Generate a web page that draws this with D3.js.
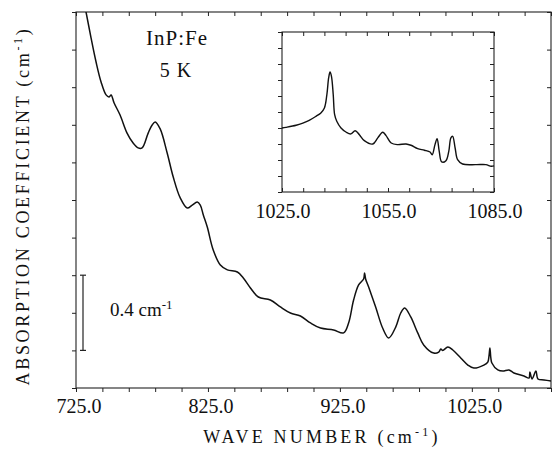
<!DOCTYPE html>
<html><head><meta charset="utf-8">
<script src="https://cdn.jsdelivr.net/npm/d3@7"></script>
<style>
html,body{margin:0;padding:0;background:#fff;}
svg{display:block;}
text{font-family:"Liberation Serif","Times New Roman",serif;fill:#111;}
</style></head>
<body>
<svg id="chart" width="553" height="456"></svg>
<script>
// ---- main spectrum (wave number, absorption coefficient in cm-1, arbitrary offset)
const mainWave = [729,732.6,736.4,740.2,744.0,747.8,750.1,751.6,753.9,758.4,763.7,768.3,772.1,775.1,779.7,782.7,785.0,788.8,794.1,798.7,804.0,809.3,813.1,816.9,819.2,821.5,824.5,829.0,834.4,839.7,847.3,851.8,857.2,863.2,872.3,879.9,887.5,895.1,902.7,910.3,920.2,927.8,931.6,935.4,939.2,943.0,943.7,944.5,946.8,952.1,957.4,962.0,967.3,971.1,974.1,978.7,984.0,988.5,996.1,999.9,1001.5,1003.0,1006.8,1010.6,1016.6,1022.0,1026.5,1034.1,1037.1,1038.0,1038.7,1039.4,1040.2,1044.7,1048.5,1053.1,1056.9,1064.5,1068.3,1069.0,1070.6,1073.6,1075.1,1079.7,1085.0];
const mainAbs  = [2.12,2.0,1.862,1.734,1.628,1.559,1.548,1.559,1.516,1.452,1.356,1.303,1.277,1.277,1.356,1.399,1.415,1.378,1.250,1.122,1.011,0.957,0.973,0.989,0.973,0.920,0.856,0.734,0.654,0.628,0.617,0.585,0.532,0.484,0.468,0.431,0.399,0.383,0.346,0.319,0.309,0.293,0.346,0.468,0.548,0.580,0.612,0.580,0.537,0.431,0.319,0.266,0.324,0.399,0.426,0.378,0.293,0.229,0.186,0.191,0.207,0.200,0.218,0.202,0.160,0.122,0.106,0.122,0.138,0.170,0.213,0.160,0.133,0.096,0.090,0.096,0.080,0.064,0.053,0.085,0.048,0.090,0.048,0.043,0.037];
// ---- inset spectrum (arbitrary units)
const insetWave = [1025.0,1026.1,1029.0,1030.9,1032.7,1034.6,1036.0,1037.0,1037.7,1038.2,1038.6,1039.0,1039.5,1039.9,1040.5,1041.7,1043.1,1044.5,1045.7,1046.9,1048.3,1050.7,1052.1,1053.5,1054.4,1055.9,1057.7,1060.1,1061.5,1063.4,1065.3,1066.9,1067.5,1068.3,1068.9,1069.5,1070.2,1071.4,1072.2,1072.8,1073.3,1074.0,1074.7,1076.1,1079.9,1082.7,1084.2,1085.0];
const insetAbs  = [4.0,4.04,4.17,4.31,4.48,4.73,4.94,5.25,6.08,7.13,7.5,7.23,6.08,4.83,4.42,4.0,3.75,3.63,3.83,3.58,3.21,3.0,3.38,3.73,3.54,3.06,2.96,3.0,2.92,2.71,2.61,2.5,2.33,2.96,3.33,2.54,1.88,1.96,2.54,3.38,3.48,2.75,2.02,1.75,1.71,1.71,1.61,1.63];
// ---- ticks
const mainXTicks = d3.range(725, 1086, 20);
const mainXLabels = [725, 825, 925, 1025];
const mainYTicks = d3.range(0, 2.01, 0.2);
const insetXTicks = d3.range(1025, 1086, 6);
const insetXLabels = [1025, 1055, 1085];
const insetYTicks = d3.range(0, 10.01, 1);
const scaleBar = [0.2, 0.6];

const svg = d3.select("#chart");
const M = {l:76, r:551, t:12, b:388};
const x = d3.scaleLinear().domain([725,1085]).range([M.l, M.r]);
const y = d3.scaleLinear().domain([0,2.0]).range([M.b, M.t]);

svg.append("defs").append("clipPath").attr("id","clipMain")
  .append("rect").attr("x",M.l).attr("y",M.t).attr("width",M.r-M.l).attr("height",M.b-M.t);

function styleAxis(g){
  g.select(".domain").remove();
  g.selectAll("line").attr("stroke","#222").attr("stroke-width",1);
}
// main axes
svg.append("g").attr("transform",`translate(0,${M.b})`)
  .call(d3.axisBottom(x).tickValues(mainXTicks).tickSize(4).tickFormat(""))
  .call(styleAxis);
svg.append("g").attr("transform",`translate(0,${M.t})`)
  .call(d3.axisBottom(x).tickValues(mainXTicks).tickSize(4).tickFormat(""))
  .call(styleAxis);
svg.append("g").attr("transform",`translate(${M.l},0)`)
  .call(d3.axisLeft(y).tickValues(mainYTicks).tickSize(4).tickFormat(""))
  .call(styleAxis);
svg.append("g").attr("transform",`translate(${M.r},0)`)
  .call(d3.axisLeft(y).tickValues(mainYTicks).tickSize(4).tickFormat(""))
  .call(styleAxis);
svg.append("rect").attr("x",M.l).attr("y",M.t).attr("width",M.r-M.l).attr("height",M.b-M.t)
  .attr("fill","none").attr("stroke","#222").attr("stroke-width",1.1);

svg.append("g").selectAll("text").data(mainXLabels).join("text")
  .attr("x",d=>x(d)+3).attr("y",M.b+25).attr("text-anchor","middle")
  .attr("font-size",20).text(d=>d.toFixed(1));

// main curve
const line = d3.line().x((d,i)=>x(mainWave[i])).y(d=>y(d)).curve(d3.curveCatmullRom.alpha(0.5));
svg.append("path").datum(mainAbs).attr("clip-path","url(#clipMain)")
  .attr("d",line).attr("fill","none").attr("stroke","#111").attr("stroke-width",1.5).attr("stroke-linejoin","round");

// scale bar
const sbx = 83;
const sb = svg.append("g").attr("stroke","#222").attr("stroke-width",1.2);
sb.append("line").attr("x1",sbx).attr("x2",sbx).attr("y1",y(scaleBar[1])).attr("y2",y(scaleBar[0]));
sb.append("line").attr("x1",sbx-3).attr("x2",sbx+3).attr("y1",y(scaleBar[1])).attr("y2",y(scaleBar[1]));
sb.append("line").attr("x1",sbx-3).attr("x2",sbx+3).attr("y1",y(scaleBar[0])).attr("y2",y(scaleBar[0]));
const sbt = svg.append("text").attr("x",110).attr("y",316).attr("font-size",19);
sbt.append("tspan").text("0.4 cm");
sbt.append("tspan").attr("font-size",13).attr("dy",-7).text("-1");

// sample labels
svg.append("text").attr("x",177).attr("y",45).attr("text-anchor","middle").attr("font-size",21).attr("letter-spacing",1).text("InP:Fe");
svg.append("text").attr("x",176).attr("y",77).attr("text-anchor","middle").attr("font-size",20).attr("letter-spacing",1).text("5 K");

// axis titles
const xt = svg.append("text").attr("x",322).attr("y",443).attr("text-anchor","middle").attr("font-size",18).attr("letter-spacing",3.2);
xt.append("tspan").text("WAVE NUMBER (cm");
xt.append("tspan").attr("font-size",12).attr("dy",-7).text("-1");
xt.append("tspan").attr("dy",7).text(")");
const yt = svg.append("text").attr("transform","translate(29,206) rotate(-90)").attr("text-anchor","middle").attr("font-size",18).attr("letter-spacing",2.7);
yt.append("tspan").text("ABSORPTION COEFFICIENT (cm");
yt.append("tspan").attr("font-size",12).attr("dy",-7).text("-1");
yt.append("tspan").attr("dy",7).text(")");

// ---- inset
const I = {l:282, r:494, t:32, b:192};
const xi = d3.scaleLinear().domain([1025,1085]).range([I.l, I.r]);
const yi = d3.scaleLinear().domain([0,10]).range([I.b, I.t]);
svg.append("g").attr("transform",`translate(0,${I.b})`)
  .call(d3.axisTop(xi).tickValues(insetXTicks).tickSize(4).tickFormat("")).call(styleAxis);
svg.append("g").attr("transform",`translate(0,${I.t})`)
  .call(d3.axisBottom(xi).tickValues(insetXTicks).tickSize(4).tickFormat("")).call(styleAxis);
svg.append("g").attr("transform",`translate(${I.l},0)`)
  .call(d3.axisLeft(yi).tickValues(insetYTicks).tickSize(4).tickFormat("")).call(styleAxis);
svg.append("g").attr("transform",`translate(${I.r},0)`)
  .call(d3.axisLeft(yi).tickValues(insetYTicks).tickSize(4).tickFormat("")).call(styleAxis);
svg.append("rect").attr("x",I.l).attr("y",I.t).attr("width",I.r-I.l).attr("height",I.b-I.t)
  .attr("fill","none").attr("stroke","#222").attr("stroke-width",1.1);
svg.append("g").selectAll("text").data(insetXLabels).join("text")
  .attr("x",d=>xi(d)+1).attr("y",I.b+26).attr("text-anchor","middle")
  .attr("font-size",20).text(d=>d.toFixed(1));
const iline = d3.line().x((d,i)=>xi(insetWave[i])).y(d=>yi(d)).curve(d3.curveCatmullRom.alpha(0.5));
svg.append("path").datum(insetAbs).attr("d",iline).attr("fill","none")
  .attr("stroke","#111").attr("stroke-width",1.4).attr("stroke-linejoin","round");
</script>
</body></html>
